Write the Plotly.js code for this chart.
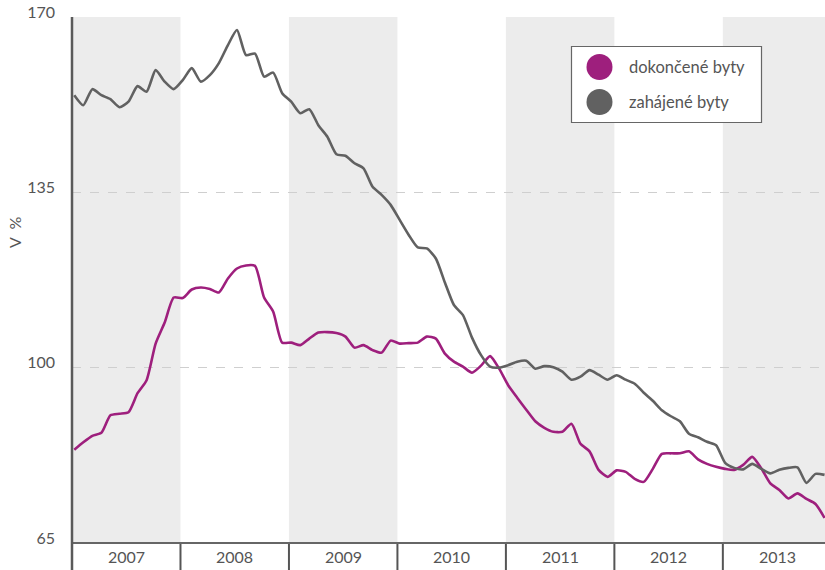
<!DOCTYPE html>
<html>
<head>
<meta charset="utf-8">
<script src="https://cdn.plot.ly/plotly-3.0.1.min.js"></script>
<style>html,body{margin:0;padding:0;background:#fff;}#chart{width:825px;height:570px;}</style>
</head>
<body>
<div id="chart"></div>
<script>
// Monthly index values, Jan 2007 – Dec 2013
const years = ["2007", "2008", "2009", "2010", "2011", "2012", "2013"];
const seriesNames = ["dokončené byty", "zahájené byty"];
const dokoncene = [
  83.6, 85.1, 86.4, 87.0, 90.5, 90.8, 91.1, 94.9, 97.5, 104.8, 109.0, 114.0,
  113.9, 115.6, 116.0, 115.7, 115.0, 117.8, 119.8, 120.4, 120.3, 114.0, 111.2, 105.0,
  105.0, 104.5, 105.8, 107.0, 107.1, 106.9, 106.2, 104.0, 104.5, 103.5, 103.0, 105.4,
  104.8, 104.9, 105.0, 106.2, 105.8, 102.8, 101.2, 100.2, 99.0, 100.4, 102.3, 99.8,
  96.5, 94.0, 91.6, 89.3, 88.0, 87.2, 87.2, 88.8, 84.8, 83.3, 79.6, 78.2,
  79.5, 79.2, 77.8, 77.2, 79.8, 82.8, 82.9, 82.9, 83.3, 81.7, 80.8, 80.2,
  79.8, 79.6, 80.6, 82.2, 79.9, 76.9, 75.6, 73.9, 74.9, 73.8, 72.8, 70.0
];
const zahajene = [
  154.4, 152.4, 155.6, 154.4, 153.6, 152.0, 153.1, 156.2, 155.1, 159.4, 157.1, 155.6,
  157.4, 159.8, 157.1, 158.4, 160.8, 164.4, 167.4, 162.4, 162.7, 158.1, 158.9, 154.8,
  153.1, 150.8, 151.6, 148.4, 146.1, 142.6, 142.3, 140.8, 139.8, 136.1, 134.5, 132.5,
  129.5, 126.5, 124.0, 123.8, 121.8, 117.0, 112.5, 110.5, 106.0, 102.5, 100.2, 100.0,
  100.5, 101.2, 101.4, 99.8, 100.3, 100.1, 99.2, 97.6, 98.2, 99.5, 98.6, 97.6,
  98.5, 97.6, 96.8, 95.0, 93.4, 91.5, 90.3, 89.3, 86.8, 86.1, 85.2, 84.5,
  81.0, 80.0, 79.7, 80.8, 79.8, 78.9, 79.6, 80.0, 80.1, 77.0, 78.8, 78.6
];
const yTicks = [65, 100, 135, 170];

const MAG = '#9e1f7d';
const GRY = '#616161';
const TXT = '#555555';
const FONT = 'Lato, "Open Sans", sans-serif';

// geometry helpers (pixel -> paper)
const L = 72, T = 17, W = 753, H = 526;
const px = x => (x - L) / W;
const py = y => (T + H - y) / H;

const xs = dokoncene.map((_, i) => i);

const traces = [
  {x: xs, y: dokoncene, name: seriesNames[0], type: 'scatter', mode: 'lines',
   line: {color: MAG, width: 2.6, shape: 'spline', smoothing: 0.6}, showlegend: false, hoverinfo: 'skip'},
  {x: xs, y: zahajene, name: seriesNames[1], type: 'scatter', mode: 'lines',
   line: {color: GRY, width: 2.6, shape: 'spline', smoothing: 0.6}, showlegend: false, hoverinfo: 'skip'}
];

const shapes = [];
const annotations = [];
years.forEach((yr, k) => {
  const x0 = 12 * k - 0.25, x1 = 12 * (k + 1) - 0.25;
  if (k % 2 === 0) {
    shapes.push({type: 'rect', xref: 'x', yref: 'paper', x0: x0, x1: x1, y0: 0, y1: 1,
      fillcolor: '#ececec', line: {width: 0}, layer: 'below'});
  }
  if (k > 0) {
    shapes.push({type: 'line', xref: 'x', yref: 'paper', x0: x0, x1: x0, y0: py(570), y1: 0,
      line: {color: TXT, width: 2}});
  }
  annotations.push({text: yr, xref: 'x', yref: 'paper', x: x0 + 6, y: py(556),
    showarrow: false, xanchor: 'center', yanchor: 'middle',
    font: {family: FONT, size: 16, color: TXT}});
});
// axis lines
shapes.push({type: 'line', xref: 'paper', yref: 'paper', x0: 0, x1: 1, y0: 0, y1: 0,
  line: {color: '#666', width: 2}});
shapes.push({type: 'line', xref: 'paper', yref: 'paper', x0: 0, x1: 0, y0: py(570), y1: 1,
  line: {color: '#5a5a5a', width: 2.5}});
// legend box
shapes.push({type: 'rect', xref: 'paper', yref: 'paper', x0: px(571.5), x1: px(761.5), y0: py(122.5), y1: py(46.5),
  fillcolor: '#ffffff', line: {color: '#666', width: 1.2}});
[[MAG, 67, seriesNames[0]], [GRY, 102, seriesNames[1]]].forEach(([c, cy, t]) => {
  shapes.push({type: 'circle', xref: 'paper', yref: 'paper', x0: px(599.5 - 13), x1: px(599.5 + 13),
    y0: py(cy + 13), y1: py(cy - 13), fillcolor: c, line: {width: 0}});
  annotations.push({text: t, xref: 'paper', yref: 'paper', x: px(627), y: py(cy), showarrow: false,
    xanchor: 'left', yanchor: 'middle', font: {family: FONT, size: 16.5, color: TXT}});
});
// y title
annotations.push({text: 'V&nbsp;&nbsp;%', xref: 'paper', yref: 'paper', x: px(15), y: py(233), textangle: -90,
  showarrow: false, xanchor: 'center', yanchor: 'middle', font: {family: FONT, size: 16, color: TXT}});

const layout = {
  width: 825, height: 570,
  margin: {l: L, r: 825 - L - W, t: T, b: 570 - T - H},
  paper_bgcolor: '#ffffff', plot_bgcolor: '#ffffff',
  showlegend: false,
  xaxis: {range: [-0.25, 83.05], showgrid: false, zeroline: false, showticklabels: false,
    showline: false, ticks: '', fixedrange: true},
  yaxis: {range: [65, 170], tickvals: yTicks, ticktext: yTicks.map(String),
    showgrid: true, gridcolor: '#cfcfcf', griddash: 'dash', gridwidth: 1,
    zeroline: false, showline: false, ticks: '', ticklabelshift: -5, ticklabelstandoff: 16,
    tickfont: {family: FONT, size: 16, color: TXT}, fixedrange: true},
  shapes: shapes,
  annotations: annotations
};

Plotly.newPlot('chart', traces, layout, {displayModeBar: false, staticPlot: true});
</script>
</body>
</html>
